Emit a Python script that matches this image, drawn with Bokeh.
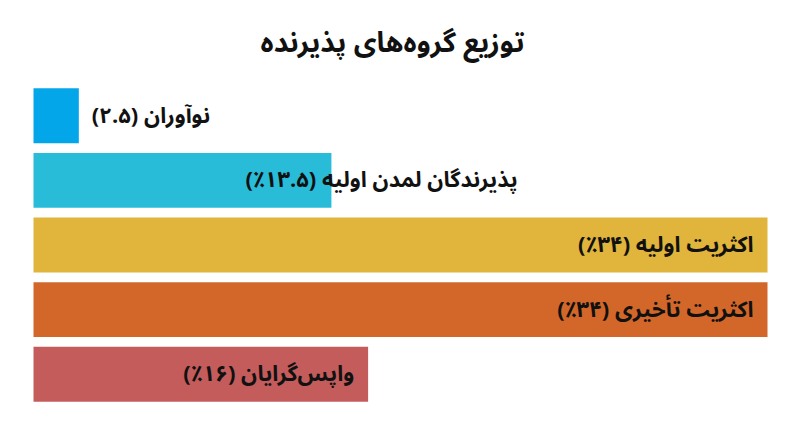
from bokeh.plotting import figure
from bokeh.models import ColumnDataSource, FactorRange, Range1d
from bokeh.core.properties import value
from bokeh.embed import file_html
from bokeh.resources import INLINE

# data
title = "توزیع گروه‌های پذیرنده"
groups = ["نوآوران", "پذیرندگان اولیه", "اکثریت اولیه", "اکثریت تأخیری", "واپس‌گرایان"]
labels = ["نوآوران (۲.۵)", "پذیرندگان لمدن اولیه (۱۳.۵٪)", "اکثریت اولیه (۳۴٪)",
          "اکثریت تأخیری (۳۴٪)", "واپس‌گرایان (۱۶٪)"]
values = [2.1, 13.8, 34, 34, 15.5]
colors = ["#04A6EA", "#29BCD8", "#E1B43C", "#D3672A", "#C45C5C"]

# label placement (style)
aligns = ["left", "left", "right", "right", "right"]
offsets = [13, -86, -14, -14, -14]

FONT = "Noto Sans Arabic, DejaVu Sans"
RLM = "\u200f"
src = ColumnDataSource(dict(
    g=groups, v=values, c=colors,
    t=[RLM + s + RLM for s in labels],
    a=aligns, o=offsets,
))

W, H = 784, 431
px_per = 734 / 34.0
p = figure(width=W, height=H, output_backend="svg", toolbar_location=None,
           y_range=FactorRange(*reversed(groups), range_padding=0),
           x_range=Range1d(-33 / px_per, (W - 33) / px_per),
           min_border_left=0, min_border_right=0, min_border_top=80, min_border_bottom=25)
p.title.text = title
p.title.align = "center"
p.title.text_font = FONT
p.title.text_font_style = "bold"
p.title.text_font_size = "28px"
p.title.text_color = "#111111"
p.title.standoff = 22

p.hbar(y="g", right="v", left=0, height=0.85, fill_color="c", line_color=None, source=src)
p.text(x="v", y="g", text="t", text_align="a", x_offset="o", text_baseline="middle",
       text_font=value(FONT), text_font_style="bold", text_font_size="22px",
       text_color="#111111", source=src)

p.axis.visible = False
p.grid.visible = False
p.outline_line_color = None
p.background_fill_color = "white"
p.border_fill_color = "white"

open("out.html", "w").write(file_html(p, INLINE))
